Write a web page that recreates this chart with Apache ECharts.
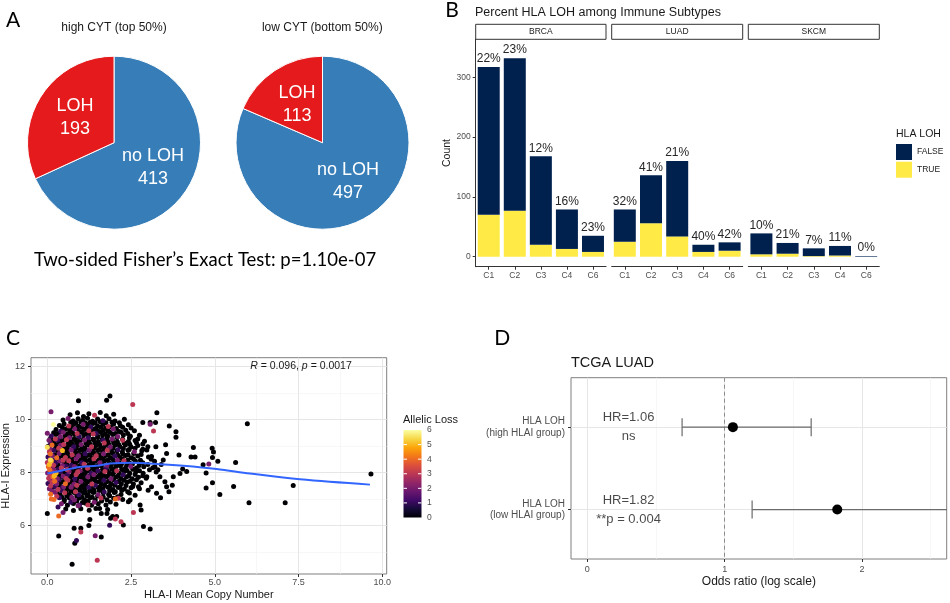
<!DOCTYPE html>
<html>
<head>
<meta charset="utf-8">
<script src="https://cdn.jsdelivr.net/npm/echarts@6/dist/echarts.min.js"></script>
<style>
html, body { margin: 0; padding: 0; background: #fff; }
#main { width: 950px; height: 603px; }
</style>
</head>
<body>
<div id="main"></div>
<script>
// ---- panel A: pies
const pieNames = ["no LOH", "LOH"];
const highCyt = [413, 193];
const lowCyt = [497, 113];

// ---- panel B: HLA LOH by immune subtype
const cancers = ["BRCA", "LUAD", "SKCM"];
const subtypes = ["C1", "C2", "C3", "C4", "C6"];
const lohTrue = [[70, 77, 20, 13, 8], [25, 56, 34, 8, 10], [4, 5, 1, 2, 0]];
const lohFalse = [[247, 255, 148, 66, 27], [54, 80, 126, 12, 14], [35, 18, 13, 16, 1]];
const lohPct = [["22%", "23%", "12%", "16%", "23%"], ["32%", "41%", "21%", "40%", "42%"], ["10%", "21%", "7%", "11%", "0%"]];
const countTicks = [0, 100, 200, 300];

// ---- panel C: copy number vs expression  [copy number, expression, allelic loss]
const cnExpr = [
  [0.68,10.18,0],[0.9,10.26,0],[1.08,10.12,0],[1.24,10.22,0],[1.41,10.16,3],[1.58,10.27,0],[1.76,10.14,0],[1.98,10.2,0],
  [0.47,9.98,0],[0.62,10.04,2],[0.77,9.95,0],[0.92,10.03,0],[1.06,9.97,0],[1.2,10.05,0],[1.35,9.94,0],[1.5,10.02,0],[1.66,9.96,1],[1.84,10.03,0],[2.02,9.95,0],[2.3,10.01,0],
  [0.7,9.9,0],[0.85,9.88,0],[1.0,9.91,0],[1.14,9.87,0],[1.28,9.9,0],[1.43,9.88,0],[1.58,9.92,0],[1.75,9.88,0],[1.93,9.9,0],[2.15,9.88,0],
  [0.36,9.78,0],[0.5,9.84,0],[0.64,9.76,3],[0.79,9.83,0],[0.93,9.75,0],[1.07,9.82,2],[1.21,9.77,0],[1.36,9.85,0],[1.5,9.76,0],[1.66,9.81,0],[1.82,9.74,3],[1.98,9.83,0],[2.18,9.77,0],[2.42,9.8,0],
  [0.45,9.7,0],[0.6,9.67,0],[0.74,9.72,0],[0.88,9.66,0],[1.02,9.71,0],[1.16,9.67,0],[1.3,9.72,1],[1.44,9.66,0],[1.59,9.71,0],[1.74,9.67,0],[1.9,9.72,0],[2.06,9.66,0],[2.25,9.71,0],[2.5,9.68,0],
  [0.26,9.62,0],[0.4,9.56,1],[0.54,9.63,0],[0.68,9.57,0],[0.82,9.64,2],[0.96,9.55,0],[1.1,9.62,0],[1.24,9.58,3],[1.38,9.63,0],[1.52,9.56,0],[1.67,9.61,0],[1.82,9.57,0],[1.97,9.64,2],[2.14,9.55,0],[2.34,9.6,0],[2.6,9.58,0],
  [0.19,9.5,0],[0.33,9.47,0],[0.47,9.52,2],[0.61,9.46,0],[0.75,9.51,0],[0.89,9.47,3],[1.03,9.52,0],[1.17,9.46,0],[1.31,9.51,0],[1.45,9.47,1],[1.59,9.52,0],[1.73,9.46,0],[1.88,9.51,0],[2.03,9.47,0],[2.2,9.52,0],[2.4,9.47,0],
  [0.12,9.38,1],[0.25,9.44,0],[0.39,9.36,2],[0.53,9.42,0],[0.67,9.37,0],[0.81,9.44,0],[0.95,9.36,1],[1.09,9.43,0],[1.23,9.38,0],[1.37,9.45,3],[1.51,9.36,0],[1.65,9.42,0],[1.8,9.37,0],[1.95,9.44,0],[2.1,9.36,2],[2.27,9.42,0],[2.48,9.37,0],[2.75,9.41,0],
  [0.1,9.3,0],[0.24,9.27,3],[0.38,9.32,0],[0.52,9.26,0],[0.66,9.31,2],[0.8,9.27,0],[0.94,9.32,0],[1.08,9.26,0],[1.22,9.31,1],[1.36,9.27,0],[1.5,9.32,0],[1.64,9.26,0],[1.78,9.31,0],[1.93,9.27,2],[2.08,9.32,0],[2.25,9.26,0],[2.45,9.31,0],[2.7,9.27,0],
  [0.05,9.22,2],[0.18,9.16,0],[0.31,9.23,1],[0.44,9.17,0],[0.57,9.24,3],[0.7,9.16,0],[0.84,9.22,0],[0.97,9.15,0],[1.11,9.23,2],[1.24,9.17,0],[1.38,9.24,0],[1.52,9.16,0],[1.66,9.22,1],[1.8,9.18,0],[1.94,9.24,0],[2.09,9.16,0],[2.25,9.22,3],[2.42,9.17,0],[2.62,9.21,0],[2.9,9.18,0],
  [0.1,9.1,1],[0.23,9.07,0],[0.36,9.12,0],[0.49,9.06,3],[0.62,9.11,0],[0.75,9.07,0],[0.88,9.12,0],[1.01,9.06,2],[1.15,9.11,0],[1.28,9.07,0],[1.42,9.12,0],[1.56,9.06,0],[1.7,9.11,3],[1.84,9.07,0],[1.98,9.12,0],[2.13,9.06,0],[2.29,9.11,0],[2.46,9.07,0],[2.66,9.12,0],[2.85,9.08,0],
  [0.02,8.98,0],[0.14,9.04,4],[0.27,8.97,0],[0.4,9.03,2],[0.53,8.96,0],[0.66,9.04,0],[0.79,8.97,1],[0.92,9.03,0],[1.05,8.96,0],[1.19,9.04,0],[1.32,8.97,3],[1.46,9.02,0],[1.6,8.95,0],[1.74,9.03,0],[1.88,8.96,2],[2.02,9.03,0],[2.17,8.97,0],[2.33,9.04,0],[2.5,8.96,0],[2.7,9.02,0],[3.0,8.97,0],
  [0.08,8.9,2],[0.21,8.87,0],[0.34,8.92,3],[0.47,8.86,0],[0.6,8.91,0],[0.73,8.87,1],[0.86,8.92,0],[0.99,8.86,0],[1.12,8.91,0],[1.26,8.87,2],[1.4,8.92,0],[1.54,8.86,0],[1.68,8.91,0],[1.82,8.87,0],[1.96,8.92,0],[2.11,8.86,1],[2.27,8.91,0],[2.44,8.87,0],[2.62,8.92,0],[2.85,8.88,0],
  [0.06,8.78,3],[0.19,8.84,1],[0.32,8.76,0],[0.45,8.83,5],[0.58,8.77,0],[0.71,8.84,2],[0.84,8.76,0],[0.97,8.83,0],[1.1,8.77,0],[1.24,8.84,1],[1.37,8.76,0],[1.51,8.83,0],[1.65,8.77,0],[1.79,8.84,3],[1.93,8.76,0],[2.08,8.82,0],[2.24,8.77,0],[2.41,8.84,0],[2.6,8.78,2],[2.82,8.82,0],
  [0.09,8.7,4],[0.22,8.67,0],[0.35,8.72,2],[0.48,8.66,0],[0.61,8.71,0],[0.74,8.67,3],[0.87,8.72,0],[1.0,8.66,0],[1.13,8.71,1],[1.27,8.67,0],[1.4,8.72,0],[1.54,8.66,0],[1.68,8.71,2],[1.82,8.67,0],[1.96,8.72,0],[2.1,8.66,0],[2.25,8.71,0],[2.41,8.67,0],[2.58,8.72,0],[2.8,8.68,0],
  [0.02,8.58,1],[0.15,8.64,2],[0.28,8.56,4],[0.41,8.63,0],[0.54,8.57,3],[0.67,8.64,0],[0.8,8.56,0],[0.93,8.63,2],[1.06,8.57,0],[1.19,8.64,0],[1.33,8.56,0],[1.46,8.63,3],[1.6,8.57,0],[1.74,8.64,0],[1.88,8.56,0],[2.02,8.62,1],[2.17,8.57,0],[2.33,8.64,0],[2.5,8.56,0],[2.7,8.62,0],[3.02,8.58,0],
  [0.08,8.5,2],[0.21,8.47,1],[0.34,8.52,0],[0.47,8.46,3],[0.6,8.51,0],[0.73,8.47,0],[0.86,8.52,2],[0.99,8.46,0],[1.12,8.51,0],[1.26,8.47,0],[1.39,8.52,3],[1.53,8.46,0],[1.67,8.51,0],[1.81,8.47,0],[1.95,8.52,0],[2.09,8.46,2],[2.24,8.51,0],[2.4,8.47,0],[2.57,8.52,0],[2.78,8.46,0],[3.1,8.5,0],
  [0.0,8.38,3],[0.12,8.44,5],[0.25,8.36,1],[0.38,8.43,2],[0.51,8.37,0],[0.64,8.44,3],[0.77,8.36,0],[0.9,8.43,0],[1.03,8.37,1],[1.16,8.44,0],[1.3,8.36,0],[1.43,8.43,0],[1.57,8.37,2],[1.71,8.44,0],[1.85,8.36,0],[1.99,8.43,0],[2.14,8.37,0],[2.29,8.44,3],[2.45,8.36,0],[2.63,8.43,0],[2.85,8.37,0],[3.2,8.42,0],
  [0.06,8.3,5],[0.19,8.27,3],[0.32,8.32,0],[0.45,8.26,2],[0.58,8.31,0],[0.71,8.27,1],[0.84,8.32,0],[0.97,8.26,0],[1.1,8.31,3],[1.23,8.27,0],[1.37,8.32,0],[1.5,8.26,0],[1.64,8.31,0],[1.78,8.27,2],[1.92,8.32,0],[2.06,8.26,0],[2.21,8.31,0],[2.37,8.27,0],[2.54,8.32,0],[2.74,8.26,0],[3.0,8.3,0],
  [0.03,8.22,4],[0.16,8.16,2],[0.29,8.23,0],[0.42,8.17,3],[0.55,8.24,1],[0.68,8.16,0],[0.81,8.23,2],[0.94,8.17,0],[1.07,8.24,0],[1.2,8.16,3],[1.34,8.22,0],[1.47,8.17,0],[1.61,8.24,0],[1.75,8.16,1],[1.89,8.23,0],[2.03,8.17,0],[2.18,8.24,0],[2.33,8.16,0],[2.49,8.23,2],[2.66,8.17,0],[2.88,8.22,0],[3.15,8.18,0],
  [0.07,8.1,4],[0.2,8.07,2],[0.33,8.12,1],[0.46,8.06,0],[0.59,8.11,3],[0.72,8.07,0],[0.85,8.12,0],[0.98,8.06,2],[1.11,8.11,0],[1.24,8.07,0],[1.38,8.12,0],[1.51,8.06,1],[1.65,8.11,0],[1.79,8.07,0],[1.93,8.12,0],[2.07,8.06,3],[2.22,8.11,0],[2.38,8.07,0],[2.55,8.12,0],[2.75,8.06,0],[3.05,8.1,0],
  [0.01,7.98,2],[0.13,8.04,3],[0.26,7.97,5],[0.39,8.03,1],[0.52,7.96,0],[0.65,8.04,2],[0.78,7.97,0],[0.91,8.03,3],[1.04,7.96,0],[1.17,8.04,0],[1.31,7.97,1],[1.44,8.03,0],[1.58,7.96,0],[1.72,8.04,3],[1.86,7.97,0],[2.0,8.03,0],[2.15,7.96,0],[2.3,8.04,0],[2.46,7.97,0],[2.64,8.03,0],[2.86,7.97,0],[3.25,8.02,0],
  [0.08,7.9,3],[0.21,7.87,5],[0.34,7.92,0],[0.47,7.86,2],[0.6,7.91,1],[0.73,7.87,0],[0.86,7.92,3],[0.99,7.86,0],[1.12,7.91,0],[1.26,7.87,0],[1.39,7.92,2],[1.53,7.86,0],[1.67,7.91,0],[1.81,7.87,0],[1.95,7.92,0],[2.1,7.86,0],[2.26,7.91,1],[2.43,7.87,0],[2.62,7.92,0],[2.85,7.88,0],
  [0.04,7.78,3],[0.17,7.84,4],[0.3,7.76,2],[0.43,7.83,0],[0.56,7.77,3],[0.69,7.84,0],[0.82,7.76,1],[0.95,7.83,0],[1.08,7.77,0],[1.21,7.84,2],[1.35,7.76,0],[1.48,7.83,0],[1.62,7.77,0],[1.76,7.84,0],[1.9,7.76,2],[2.05,7.83,0],[2.2,7.77,0],[2.36,7.84,0],[2.53,7.76,0],[2.72,7.82,0],[2.95,7.78,0],
  [0.09,7.7,2],[0.22,7.67,4],[0.35,7.72,1],[0.48,7.66,0],[0.61,7.71,3],[0.74,7.67,0],[0.87,7.72,0],[1.0,7.66,2],[1.14,7.71,0],[1.27,7.67,0],[1.41,7.72,0],[1.55,7.66,0],[1.69,7.71,1],[1.83,7.67,0],[1.98,7.72,0],[2.13,7.66,0],[2.29,7.71,0],[2.47,7.67,0],[2.66,7.72,0],
  [0.02,7.58,1],[0.15,7.64,3],[0.28,7.56,2],[0.41,7.63,0],[0.54,7.57,4],[0.67,7.64,0],[0.8,7.56,2],[0.93,7.63,0],[1.06,7.57,0],[1.2,7.64,0],[1.33,7.56,3],[1.47,7.63,0],[1.61,7.57,0],[1.75,7.64,0],[1.9,7.56,0],[2.05,7.62,1],[2.21,7.57,0],[2.38,7.64,0],[2.57,7.56,0],[2.8,7.61,0],
  [0.1,7.5,3],[0.23,7.47,1],[0.36,7.52,0],[0.49,7.46,2],[0.62,7.51,0],[0.75,7.47,0],[0.88,7.52,3],[1.02,7.46,0],[1.15,7.51,0],[1.29,7.47,0],[1.43,7.52,1],[1.57,7.46,0],[1.71,7.51,0],[1.86,7.47,0],[2.01,7.52,0],[2.17,7.46,0],[2.35,7.51,0],[2.55,7.47,0],
  [0.06,7.38,2],[0.19,7.44,0],[0.32,7.36,3],[0.45,7.43,1],[0.58,7.37,0],[0.71,7.44,2],[0.84,7.36,0],[0.97,7.43,0],[1.11,7.37,0],[1.24,7.44,1],[1.38,7.36,0],[1.52,7.43,0],[1.66,7.37,0],[1.81,7.44,0],[1.96,7.36,0],[2.12,7.43,0],[2.3,7.37,0],[2.5,7.42,0],[2.75,7.38,0],
  [0.14,7.3,2],[0.28,7.27,0],[0.42,7.32,1],[0.56,7.26,0],[0.7,7.31,0],[0.84,7.27,3],[0.98,7.32,0],[1.12,7.26,0],[1.26,7.31,0],[1.4,7.27,0],[1.55,7.32,0],[1.7,7.26,1],[1.86,7.31,0],[2.03,7.27,0],[2.22,7.32,0],[2.4,7.27,0],
  [0.1,7.18,4],[0.24,7.24,2],[0.38,7.16,0],[0.52,7.23,3],[0.66,7.17,0],[0.8,7.24,0],[0.94,7.16,1],[1.08,7.23,0],[1.22,7.17,0],[1.37,7.24,0],[1.52,7.16,2],[1.67,7.23,0],[1.83,7.17,0],[2.0,7.24,0],[2.2,7.17,0],[2.45,7.22,0],
  [0.28,7.1,3],[0.43,7.07,0],[0.58,7.12,0],[0.73,7.06,2],[0.88,7.11,0],[1.03,7.07,0],[1.18,7.12,0],[1.34,7.06,0],[1.5,7.11,0],[1.67,7.07,0],[1.86,7.12,0],[2.1,7.08,0],
  [0.2,6.98,4],[0.36,7.04,1],[0.51,6.97,0],[0.66,7.03,0],[0.81,6.96,2],[0.96,7.03,0],[1.11,6.97,0],[1.27,7.04,0],[1.43,6.96,0],[1.6,7.03,3],[1.78,6.97,0],[1.98,7.02,0],[2.25,6.98,0],
  [0.5,6.9,0],[0.7,6.87,1],[0.88,6.92,0],[1.05,6.86,0],[1.22,6.91,0],[1.4,6.87,2],[1.62,6.92,0],[1.88,6.88,0],
  [0.42,6.82,2],[0.6,6.76,0],[0.78,6.83,0],[0.96,6.77,1],[1.14,6.84,0],[1.32,6.76,0],[1.52,6.82,0],[1.75,6.77,0],[2.05,6.8,0],
  [0.55,6.62,0],[0.78,6.56,0],[1.0,6.63,0],[1.25,6.57,0],[1.45,6.64,0],[1.8,6.6,0],
  [9.66,7.94,0],[5.97,9.84,0],[6.02,6.85,0],[7.1,6.85,0],[7.34,7.51,0],[5.62,8.38,0],[5.56,7.47,0],[5.15,7.17,0],[4.93,7.61,0],[4.74,7.41,0],[4.74,7.98,0],[4.82,8.32,2],[4.92,8.92,0],[4.96,8.77,0],[4.93,8.57,0],[5.09,8.42,0],[4.65,8.29,0],[4.36,8.94,0],[4.29,8.58,0],[4.41,8.58,0],[4.16,8.04,0],[4.04,8.13,0],[3.93,8.66,0],[3.84,9.54,0],[3.84,9.33,0],[3.64,9.76,0],[3.53,9.05,0],[3.27,10.26,0],[3.23,9.89,0],[3.07,9.89,0],[3.17,9.57,3],[3.07,9.82,2],[2.85,9.89,0],
  [3.36,7.84,0],[3.51,7.65,0],[3.56,7.46,0],[3.76,7.84,0],[3.73,7.52,0],[3.96,7.96,0],[3.11,7.46,0],[3.26,7.21,0],[3.38,7.04,0],[3.63,7.27,0],[3.01,7.33,0],[2.97,7.84,0],[3.21,8.22,0],[3.46,8.47,0],[3.56,8.72,0],[3.24,8.97,0],[2.97,8.85,0],[3.11,8.6,0],[3.4,8.3,0],[3.3,8.1,0],
  [2.77,6.77,0],[2.8,6.58,0],[2.47,6.96,0],[2.62,7.14,0],[2.72,7.46,0],[3.07,5.86,0],[2.87,5.96,0],[2.57,6.49,3],[2.2,6.14,3],[2.27,6.01,0],[2.12,7.02,3],[2.42,6.89,0],[2.07,6.33,0],[1.89,6.27,0],[1.78,6.45,0],[1.61,6.45,0],[1.56,6.64,0],[2.03,7.0,4],[1.95,6.33,0],[2.03,6.24,3],[1.86,6.0,1],[1.24,5.99,0],[1.27,6.22,0],[1.21,6.77,3],[0.92,6.74,2],[0.47,6.49,2],[0.32,6.69,1],[0.12,7.0,4],[0.0,6.45,0],[0.34,6.35,4],[0.34,5.6,0],[0.8,5.89,0],[1.0,5.89,0],[1.0,5.75,3],[0.82,5.32,0],[0.87,5.43,1],[1.43,5.61,2],[1.61,5.56,0],[1.49,4.68,3],[0.74,4.53,0],
  [2.55,10.57,3],[1.87,10.89,0],[1.77,10.73,0],[0.93,10.71,0],[0.11,10.3,2],[0.18,9.81,6],[0.0,9.48,2],[0.0,8.95,5.5],[0.09,8.47,5.5]
];
const loessX = [0, 0.5, 1.02, 1.47, 1.87, 2.57, 3.06, 4.06, 5.05, 6.05, 7.54, 9.63];
const loessY = [7.96, 8.09, 8.22, 8.25, 8.34, 8.37, 8.34, 8.25, 8.13, 7.96, 7.74, 7.54];
const cTicksX = [0, 2.5, 5, 7.5, 10];
const cMinorX = [1.25, 3.75, 6.25, 8.75];
const cTicksY = [6, 8, 10, 12];
const cMinorY = [5, 7, 9, 11];
const lossTicks = [0, 1, 2, 3, 4, 5, 6];

// ---- panel D: forest plot
const forestRows = ["HLA LOH\n(high HLAI group)", "HLA LOH\n(low HLAI group)"];
const forestOR = [1.06, 1.82];
const forestLow = [0.69, 1.2];
const forestHigh = [1.63, 2.75];
const forestText = ["HR=1.06\nns", "HR=1.82\n**p = 0.004"];
const forestTicks = [0, 1, 2];
const forestMinor = [0.5, 1.5, 2.5];

const FONT = "Liberation Sans";
const inferno = ["#000004", "#160B39", "#420A68", "#6A176E", "#932667", "#BC3754",
  "#DD513A", "#F37819", "#FCA50A", "#F6D746", "#FCFFA4"];
const navy = "#00204D";
const yellow = "#FFEA46";

function txt(x, y, text, size, extra) {
  return {
    type: "text", x: x, y: y, silent: true, z: 10,
    style: Object.assign({
      text: text, fontSize: size, fontFamily: FONT, fill: "#1a1a1a",
      align: "center", verticalAlign: "middle"
    }, extra || {})
  };
}

function gridLines(xs, ys, color, width) {
  const out = [];
  xs.forEach(v => out.push({ xAxis: v, lineStyle: { color: color, width: width, type: "solid" } }));
  ys.forEach(v => out.push({ yAxis: v, lineStyle: { color: color, width: width, type: "solid" } }));
  return out;
}

const chart = echarts.init(document.getElementById("main"));

// facet grids for panel B
const bLeft = [475.7, 611.7, 748.3];
const bWidth = [130.3, 131, 131];
const grids = bLeft.map((l, i) => ({
  left: l, top: 39.3, width: bWidth[i], height: 227.4, outerBoundsMode: "none"
}));
grids.push({ left: 31, top: 357.7, width: 355.7, height: 216.3, show: true,
  borderColor: "#7f7f7f", borderWidth: 1, backgroundColor: "transparent", outerBoundsMode: "none" });
grids.push({ left: 571, top: 377.7, width: 375.7, height: 181.3, show: true,
  borderColor: "#7f7f7f", borderWidth: 1, backgroundColor: "transparent", outerBoundsMode: "none" });

const axLabel = { color: "#4d4d4d", fontSize: 8.5, fontFamily: FONT };
const axTick = { lineStyle: { color: "#333", width: 1 } };

const xAxes = cancers.map((c, i) => ({
  gridIndex: i, type: "category", data: subtypes,
  axisLine: { show: true, onZero: false, lineStyle: { color: "#333", width: 1 } },
  axisTick: Object.assign({ show: true, alignWithLabel: true, length: 3 }, axTick),
  axisLabel: Object.assign({ margin: 4 }, axLabel),
  splitLine: { show: false }
}));
xAxes.push({
  gridIndex: 3, type: "value", min: -0.487, max: 10.13,
  axisLine: { show: false, onZero: false },
  axisTick: Object.assign({ show: true, length: 3, customValues: cTicksX }, axTick),
  axisLabel: Object.assign({ margin: 4.5, customValues: cTicksX, formatter: v => v.toFixed(1) }, axLabel, { fontSize: 9 }),
  splitLine: { show: false },
  name: "HLA-I Mean Copy Number", nameLocation: "middle", nameGap: 15,
  nameTextStyle: { fontSize: 11, color: "#1a1a1a", fontFamily: FONT }
});
xAxes.push({
  gridIndex: 4, type: "value", min: -0.119, max: 2.617,
  axisLine: { show: false, onZero: false },
  axisTick: Object.assign({ show: true, length: 3, customValues: forestTicks }, axTick),
  axisLabel: Object.assign({ margin: 6, customValues: forestTicks }, axLabel, { fontSize: 9 }),
  splitLine: { show: false },
  name: "Odds ratio (log scale)", nameLocation: "middle", nameGap: 17,
  nameTextStyle: { fontSize: 12, color: "#1a1a1a", fontFamily: FONT }
});

const yAxes = cancers.map((c, i) => ({
  gridIndex: i, type: "value", min: -16.7, max: 363.5,
  axisLine: { show: i === 0, onZero: false, lineStyle: { color: "#333", width: 1 } },
  axisTick: Object.assign({ show: i === 0, length: 3, customValues: countTicks }, axTick),
  axisLabel: Object.assign({ show: i === 0, margin: 5, customValues: countTicks }, axLabel),
  splitLine: { show: false },
  name: i === 0 ? "Count" : "", nameLocation: "middle", nameGap: 21,
  nameTextStyle: { fontSize: 10.5, color: "#1a1a1a", fontFamily: FONT }
}));
yAxes.push({
  gridIndex: 3, type: "value", min: 4.16, max: 12.34,
  axisLine: { show: false, onZero: false },
  axisTick: Object.assign({ show: true, length: 3, customValues: cTicksY }, axTick),
  axisLabel: Object.assign({ margin: 6, customValues: cTicksY }, axLabel, { fontSize: 9 }),
  splitLine: { show: false },
  name: "HLA-I Expression", nameLocation: "middle", nameGap: 19,
  nameTextStyle: { fontSize: 11, color: "#1a1a1a", fontFamily: FONT }
});
yAxes.push({
  gridIndex: 4, type: "value", min: 0.4, max: 2.6, inverse: true,
  axisLine: { show: false, onZero: false },
  axisTick: Object.assign({ show: true, length: 3, customValues: [1, 2] }, axTick),
  axisLabel: Object.assign({ margin: 6, customValues: [1, 2], align: "right", lineHeight: 11.5,
    formatter: v => forestRows[Math.round(v) - 1] }, axLabel, { fontSize: 10 }),
  splitLine: { show: false }
});

const pieBase = {
  type: "pie", radius: 86.5, startAngle: 90, clockwise: true, silent: true,
  label: { show: true, position: "inside", formatter: "{b}\n{c}", color: "#fff",
    fontSize: 18, lineHeight: 23, fontFamily: FONT, textBorderWidth: 0 },
  labelLine: { show: false },
  itemStyle: { borderColor: "#fff", borderWidth: 1 },
  emphasis: { disabled: true }
};
const pieColors = ["#377EB8", "#E41A1C"];

const series = [
  Object.assign({}, pieBase, { center: [114, 142.7],
    data: pieNames.map((n, i) => ({ name: n, value: highCyt[i], itemStyle: { color: pieColors[i] } })) }),
  Object.assign({}, pieBase, { center: [322.5, 142.7],
    data: pieNames.map((n, i) => ({ name: n, value: lowCyt[i], itemStyle: { color: pieColors[i] } })) })
];

cancers.forEach((c, i) => {
  series.push({
    type: "bar", name: "TRUE", xAxisIndex: i, yAxisIndex: i, stack: c,
    data: lohTrue[i], barWidth: 22, itemStyle: { color: yellow }, silent: true
  });
  series.push({
    type: "bar", name: "FALSE", xAxisIndex: i, yAxisIndex: i, stack: c,
    data: lohFalse[i], barWidth: 22, itemStyle: { color: navy }, silent: true,
    label: { show: true, position: "top", distance: 2, fontSize: 12, color: "#262626",
      fontFamily: FONT, formatter: p => lohPct[i][p.dataIndex] }
  });
});

// draw points with allelic loss on top so the coloured ones stay visible
const cnExprDrawn = cnExpr.slice().sort((a, b) => a[2] - b[2]);
series.push({
  type: "scatter", xAxisIndex: 3, yAxisIndex: 3, data: cnExprDrawn, symbolSize: 5,
  itemStyle: { opacity: 1 }, silent: true, z: 2,
  markLine: {
    silent: true, symbol: ["none", "none"], label: { show: false }, z: 1, animation: false,
    data: gridLines(cMinorX, cMinorY, "#F2F2F2", 0.6).concat(gridLines(cTicksX, cTicksY, "#E6E6E6", 1))
  }
});
series.push({
  type: "line", xAxisIndex: 3, yAxisIndex: 3, smooth: 0.35, symbol: "none", silent: true, z: 3,
  data: loessX.map((x, i) => [x, loessY[i]]),
  lineStyle: { color: "#3366FF", width: 2 }
});

series.push({
  type: "custom", xAxisIndex: 4, yAxisIndex: 4, clip: true, silent: true, z: 2,
  data: forestLow.map((l, i) => [l, forestHigh[i], i + 1]),
  encode: { x: [0, 1], y: 2 },
  renderItem: function (params, api) {
    const lo = api.coord([api.value(0), api.value(2)]);
    const hi = api.coord([api.value(1), api.value(2)]);
    const h = 9;
    const st = { stroke: "#6b6b6b", lineWidth: 1.2 };
    return {
      type: "group", children: [
        { type: "line", shape: { x1: lo[0], y1: lo[1], x2: hi[0], y2: hi[1] }, style: st },
        { type: "line", shape: { x1: lo[0], y1: lo[1] - h, x2: lo[0], y2: lo[1] + h }, style: st },
        { type: "line", shape: { x1: hi[0], y1: hi[1] - h, x2: hi[0], y2: hi[1] + h }, style: st }
      ]
    };
  },
  markLine: {
    silent: true, symbol: ["none", "none"], label: { show: false }, z: 1, animation: false,
    data: gridLines(forestMinor, [], "#F2F2F2", 0.6)
      .concat(gridLines(forestTicks, [1, 2], "#E6E6E6", 1))
      .concat([{ xAxis: 1, lineStyle: { color: "#8c8c8c", width: 1, type: [4, 3] } }])
  }
});
series.push({
  type: "scatter", xAxisIndex: 4, yAxisIndex: 4, silent: true, z: 4,
  data: forestOR.map((v, i) => [v, i + 1]), symbolSize: 10,
  itemStyle: { color: "#000", opacity: 1 }
});
series.push({
  type: "scatter", xAxisIndex: 4, yAxisIndex: 4, silent: true, z: 4,
  data: forestText.map((t, i) => [0.3, i + 1]), symbolSize: 0,
  label: { show: true, position: "inside", fontSize: 13, lineHeight: 19, color: "#1a1a1a",
    fontFamily: FONT, formatter: p => forestText[p.dataIndex] }
});

// decorations: panel letters, titles, strips, colour bar
const graphics = [
  txt(13, 20, "A", 21, { fontFamily: "Lato", fill: "#000" }),
  txt(452, 10.5, "B", 21, { fontFamily: "Lato", fill: "#000" }),
  txt(13, 338.3, "C", 21, { fontFamily: "Lato", fill: "#000" }),
  txt(502.3, 338.3, "D", 21, { fontFamily: "Lato", fill: "#000" }),
  txt(114, 27.3, "high CYT (top 50%)", 12),
  txt(322.3, 27.3, "low CYT (bottom 50%)", 12),
  txt(205, 260, "Two-sided Fisher\u2019s Exact Test: p=1.10e-07", 18.5, { fontFamily: "Lato", fill: "#000" }),
  txt(475, 12.5, "Percent HLA LOH among Immune Subtypes", 12.5, { align: "left" }),
  txt(896, 134, "HLA LOH", 10.5, { align: "left" }),
  txt(571, 363.3, "TCGA LUAD", 14.5, { align: "left" }),
  {
    type: "text", x: 301, y: 366, silent: true, z: 10,
    style: {
      text: "{i|R} = 0.096, {i|p} = 0.0017", fontSize: 10.5, fontFamily: FONT, fill: "#1a1a1a",
      align: "center", verticalAlign: "middle",
      rich: { i: { fontStyle: "italic", fontSize: 10.5, fontFamily: FONT, fill: "#1a1a1a" } }
    }
  },
  txt(403, 419.5, "Allelic Loss", 11, { align: "left" }),
  {
    type: "rect", silent: true, shape: { x: 403.5, y: 430, width: 18, height: 87.5 },
    style: { fill: new echarts.graphic.LinearGradient(0, 1, 0, 0,
      inferno.map((c, i) => ({ offset: i / (inferno.length - 1), color: c }))) }
  }
];
cancers.forEach((c, i) => {
  graphics.push({
    type: "rect", silent: true, shape: { x: bLeft[i], y: 24.3, width: bWidth[i], height: 15 },
    style: { fill: "#fff", stroke: "#333", lineWidth: 1 }
  });
  graphics.push(txt(bLeft[i] + bWidth[i] / 2, 31.8, c, 8.5));
});
lossTicks.forEach(v => {
  const y = 517.5 - v * 87.5 / 6;
  graphics.push(txt(427, y, String(v), 8.5, { align: "left", fill: "#4d4d4d" }));
  if (v > 0 && v < 6) {
    graphics.push({ type: "line", silent: true, z: 10, shape: { x1: 403.5, y1: y, x2: 407, y2: y }, style: { stroke: "#fff", lineWidth: 1 } });
    graphics.push({ type: "line", silent: true, z: 10, shape: { x1: 418, y1: y, x2: 421.5, y2: y }, style: { stroke: "#fff", lineWidth: 1 } });
  }
});

chart.setOption({
  animation: false,
  backgroundColor: "#fff",
  textStyle: { fontFamily: FONT },
  tooltip: { show: false },
  grid: grids,
  xAxis: xAxes,
  yAxis: yAxes,
  legend: {
    data: ["FALSE", "TRUE"], orient: "vertical", left: 896, top: 144, padding: 0,
    itemWidth: 16, itemHeight: 16, itemGap: 1.7, icon: "rect", selectedMode: false,
    textStyle: { fontSize: 8.5, color: "#1a1a1a", fontFamily: FONT }
  },
  visualMap: {
    show: false, type: "continuous", seriesIndex: 8, dimension: 2, min: 0, max: 6,
    inRange: { color: inferno }
  },
  series: series,
  graphic: graphics
});
</script>
</body>
</html>
